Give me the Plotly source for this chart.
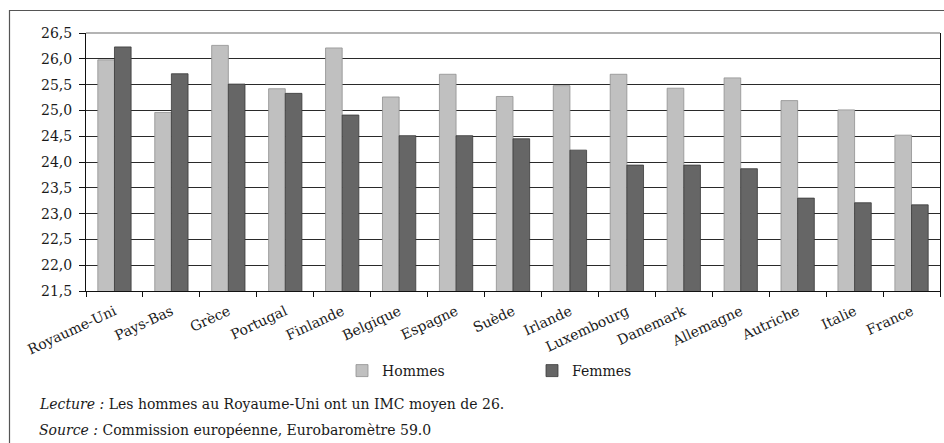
import plotly.graph_objects as go

countries = ["Royaume-Uni", "Pays-Bas", "Grèce", "Portugal", "Finlande", "Belgique",
             "Espagne", "Suède", "Irlande", "Luxembourg", "Danemark", "Allemagne",
             "Autriche", "Italie", "France"]
hommes = [25.98, 24.96, 26.26, 25.42, 26.21, 25.26, 25.70, 25.27, 25.48, 25.70,
          25.43, 25.63, 25.19, 25.01, 24.52]
femmes = [26.23, 25.71, 25.51, 25.33, 24.91, 24.51, 24.51, 24.45, 24.23, 23.94,
          23.94, 23.87, 23.30, 23.21, 23.17]
series_names = ["Hommes", "Femmes"]
lecture_label = "Lecture :"
lecture_text = "Les hommes au Royaume-Uni ont un IMC moyen de 26."
source_label = "Source :"
source_text = "Commission européenne, Eurobaromètre 59.0"

FONT = "DejaVu Serif"
W, H = 944, 443
L, R, T, B = 86, 4, 33, 152
pw = W - L - R
ph = H - T - B


def px(x):
    return (x - L) / pw


def py(y):
    return (H - B - y) / ph


fig = go.Figure()
fig.add_trace(go.Bar(x=countries, y=hommes, name=series_names[0],
                     marker=dict(color="#c0c0c0", line=dict(color="#8f8f8f", width=0.8))))
fig.add_trace(go.Bar(x=countries, y=femmes, name=series_names[1],
                     marker=dict(color="#666666", line=dict(color="#3a3a3a", width=0.8))))

fig.update_layout(
    width=W, height=H,
    margin=dict(l=L, r=R, t=T, b=B, pad=0),
    paper_bgcolor="white", plot_bgcolor="white",
    separators=", ",
    barmode="group", bargap=0.415, bargroupgap=0,
    font=dict(family=FONT, size=14, color="#1a1a1a"),
    legend=dict(orientation="h", x=px(342), y=py(371), xanchor="left", yanchor="middle",
                font=dict(family=FONT, size=14, color="#1a1a1a"),
                entrywidth=145, entrywidthmode="pixels", traceorder="normal",
                bgcolor="rgba(0,0,0,0)"),
    xaxis=dict(type="category", showline=True, linecolor="#111", linewidth=1,
               ticks="outside", ticklen=5, tickcolor="#111", tickson="boundaries",
               tickangle=-25, ticklabelstandoff=6,
               tickfont=dict(family=FONT, size=14, color="#1a1a1a"),
               showgrid=False),
    yaxis=dict(range=[21.5, 26.5], dtick=0.5, tick0=21.5, tickformat=".1f",
               showline=True, linecolor="#111", linewidth=1, mirror=True,
               ticks="outside", ticklen=6, tickcolor="#111", ticklabelstandoff=4,
               showgrid=True, gridcolor="#2a2a2a", gridwidth=1,
               tickfont=dict(family=FONT, size=14, color="#1a1a1a")),
    shapes=[
        dict(type="path", xref="paper", yref="paper",
             path=f"M {px(9.5)},{py(450)} L {px(9.5)},{py(10.5)} L {px(950)},{py(10.5)}",
             line=dict(color="#555555", width=1.2)),
        dict(type="line", xref="paper", yref="paper", x0=0, x1=1, y0=1, y1=1,
             line=dict(color="#6a6a6a", width=1.2)),
    ],
    annotations=[
        dict(xref="paper", yref="paper", x=px(37), y=py(404), xanchor="left", yanchor="middle",
             text=f"<i>{lecture_label}</i> {lecture_text}", showarrow=False,
             font=dict(family=FONT, size=14, color="#1a1a1a")),
        dict(xref="paper", yref="paper", x=px(37), y=py(430), xanchor="left", yanchor="middle",
             text=f"<i>{source_label}</i> {source_text}", showarrow=False,
             font=dict(family=FONT, size=14, color="#1a1a1a")),
    ],
)

fig.write_html("out.html", config={"displayModeBar": False},
               post_script="document.body.style.margin='0';")
